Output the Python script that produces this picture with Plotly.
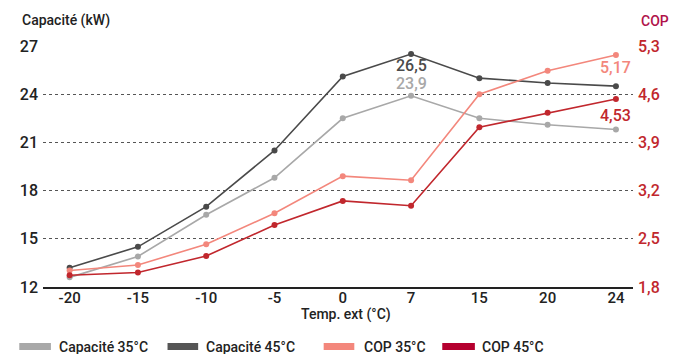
"""Capacité / COP vs température extérieure."""

import plotly.graph_objects as go

temps = ["-20", "-15", "-10", "-5", "0", "7", "15", "20", "24"]
cap_35 = [12.6, 13.9, 16.5, 18.8, 22.5, 23.9, 22.5, 22.1, 21.8]
cap_45 = [13.2, 14.5, 17.0, 20.5, 25.1, 26.5, 25.0, 24.7, 24.5]
cop_35 = [2.04, 2.12, 2.42, 2.87, 3.41, 3.35, 4.60, 4.94, 5.17]
cop_45 = [1.97, 2.01, 2.25, 2.70, 3.05, 2.98, 4.12, 4.33, 4.53]

cap_ticks = [12, 15, 18, 21, 24, 27]
cop_ticks = [1.8, 2.5, 3.2, 3.9, 4.6, 5.3]
cop_labels = ["1,8", "2,5", "3,2", "3,9", "4,6", "5,3"]

series = [
    ("Capacité 35°C", cap_35, "y", "#a8a8a8", "#a8a8a8"),
    ("Capacité 45°C", cap_45, "y", "#4a4a4a", "#555555"),
    ("COP 35°C", cop_35, "y2", "#f3877c", "#f3877c"),
    ("COP 45°C", cop_45, "y2", "#c1272d", "#b5002f"),
]

FONT = "Roboto, 'Noto Sans', sans-serif"
# the page body has an 8px margin, so the figure is drawn 8px in from the corner
OFF = 8
W, H = 678 - OFF, 354 - OFF
# plot area in page pixels
X0, X1, Y0, Y1 = 36, 633, 46, 287
ML, MT = X0 - OFF, Y0 - OFF
PW, PH = X1 - X0, Y1 - Y0
MR, MB = W - ML - PW, H - MT - PH


def px_x(x):
    return (x - X0) / PW


def px_y(y):
    return (Y1 - y) / PH


fig = go.Figure()
for name, vals, yax, color, _ in series:
    fig.add_trace(
        go.Scatter(
            x=temps,
            y=vals,
            yaxis=yax,
            name=name,
            mode="lines+markers",
            line=dict(color=color, width=1.6),
            marker=dict(color=color, size=6),
            showlegend=False,
        )
    )

# value labels (x given as category index)
i7, i24 = temps.index("7"), temps.index("24")
labels = [
    ("26,5", i7, cap_45[i7], "y", "#4a4a4a", -11),
    ("23,9", i7, cap_35[i7], "y", "#a8a8a8", 12),
    ("5,17", i24, cop_35[i24], "y2", "#f3877c", -13),
    ("4,53", i24, cop_45[i24], "y2", "#c1272d", -16),
]
for text, xv, yv, yref, color, dy in labels:
    fig.add_annotation(
        x=xv, y=yv, xref="x", yref=yref, text=text, showarrow=False,
        yshift=dy, font=dict(family=FONT, size=16, color=color, weight=500),
    )

# axis titles
fig.add_annotation(
    x=px_x(13), y=px_y(21), xref="paper", yref="paper", text="Capacité (kW)",
    showarrow=False, xanchor="left", yanchor="middle",
    font=dict(family=FONT, size=14, color="#222222", weight=500),
)
fig.add_annotation(
    x=px_x(639), y=px_y(21), xref="paper", yref="paper", text="COP",
    showarrow=False, xanchor="left", yanchor="middle",
    font=dict(family=FONT, size=14, color="#b0124a", weight=500),
)
fig.add_annotation(
    x=px_x(343), y=px_y(314), xref="paper", yref="paper", text="Temp. ext (°C)",
    showarrow=False, xanchor="center", yanchor="middle",
    font=dict(family=FONT, size=14, color="#222222", weight=500),
)

# legend
leg_rects = [(12, 44, 50), (162, 193, 199), (320, 351, 359), (440, 473, 478)]
for (name, _, _, _, lcolor), (r0, r1, tx) in zip(series, leg_rects):
    fig.add_shape(
        type="rect", xref="paper", yref="paper",
        x0=px_x(r0), x1=px_x(r1), y0=px_y(350), y1=px_y(343),
        fillcolor=lcolor, line=dict(width=0),
    )
    fig.add_annotation(
        x=px_x(tx), y=px_y(347), xref="paper", yref="paper", text=name,
        showarrow=False, xanchor="left", yanchor="middle",
        font=dict(family=FONT, size=14, color="#222222", weight=500),
    )

fig.update_layout(
    width=W,
    height=H,
    margin=dict(l=ML, r=MR, t=MT, b=MB),
    paper_bgcolor="white",
    plot_bgcolor="white",
    font=dict(family=FONT, size=15, color="#222222", weight=500),
    showlegend=False,
    xaxis=dict(
        type="category",
        range=[-0.39, 8.25],
        showgrid=False,
        showline=True,
        linecolor="#222222",
        linewidth=1.5,
        ticks="",
        ticklabelstandoff=-4,
        tickfont=dict(size=15),
        zeroline=False,
    ),
    yaxis=dict(
        range=[12, 27],
        tickvals=cap_ticks,
        showgrid=True,
        gridcolor="#555555",
        griddash="dot",
        gridwidth=1,
        zeroline=False,
        ticks="",
        ticklabelstandoff=4,
        tickfont=dict(size=16),
    ),
    yaxis2=dict(
        range=[1.8, 5.3],
        tickvals=cop_ticks,
        ticktext=cop_labels,
        overlaying="y",
        side="right",
        showgrid=False,
        zeroline=False,
        ticks="",
        ticklabelstandoff=4,
        tickfont=dict(size=16, color="#c1272d"),
    ),
)

fig.write_html("out.html")
